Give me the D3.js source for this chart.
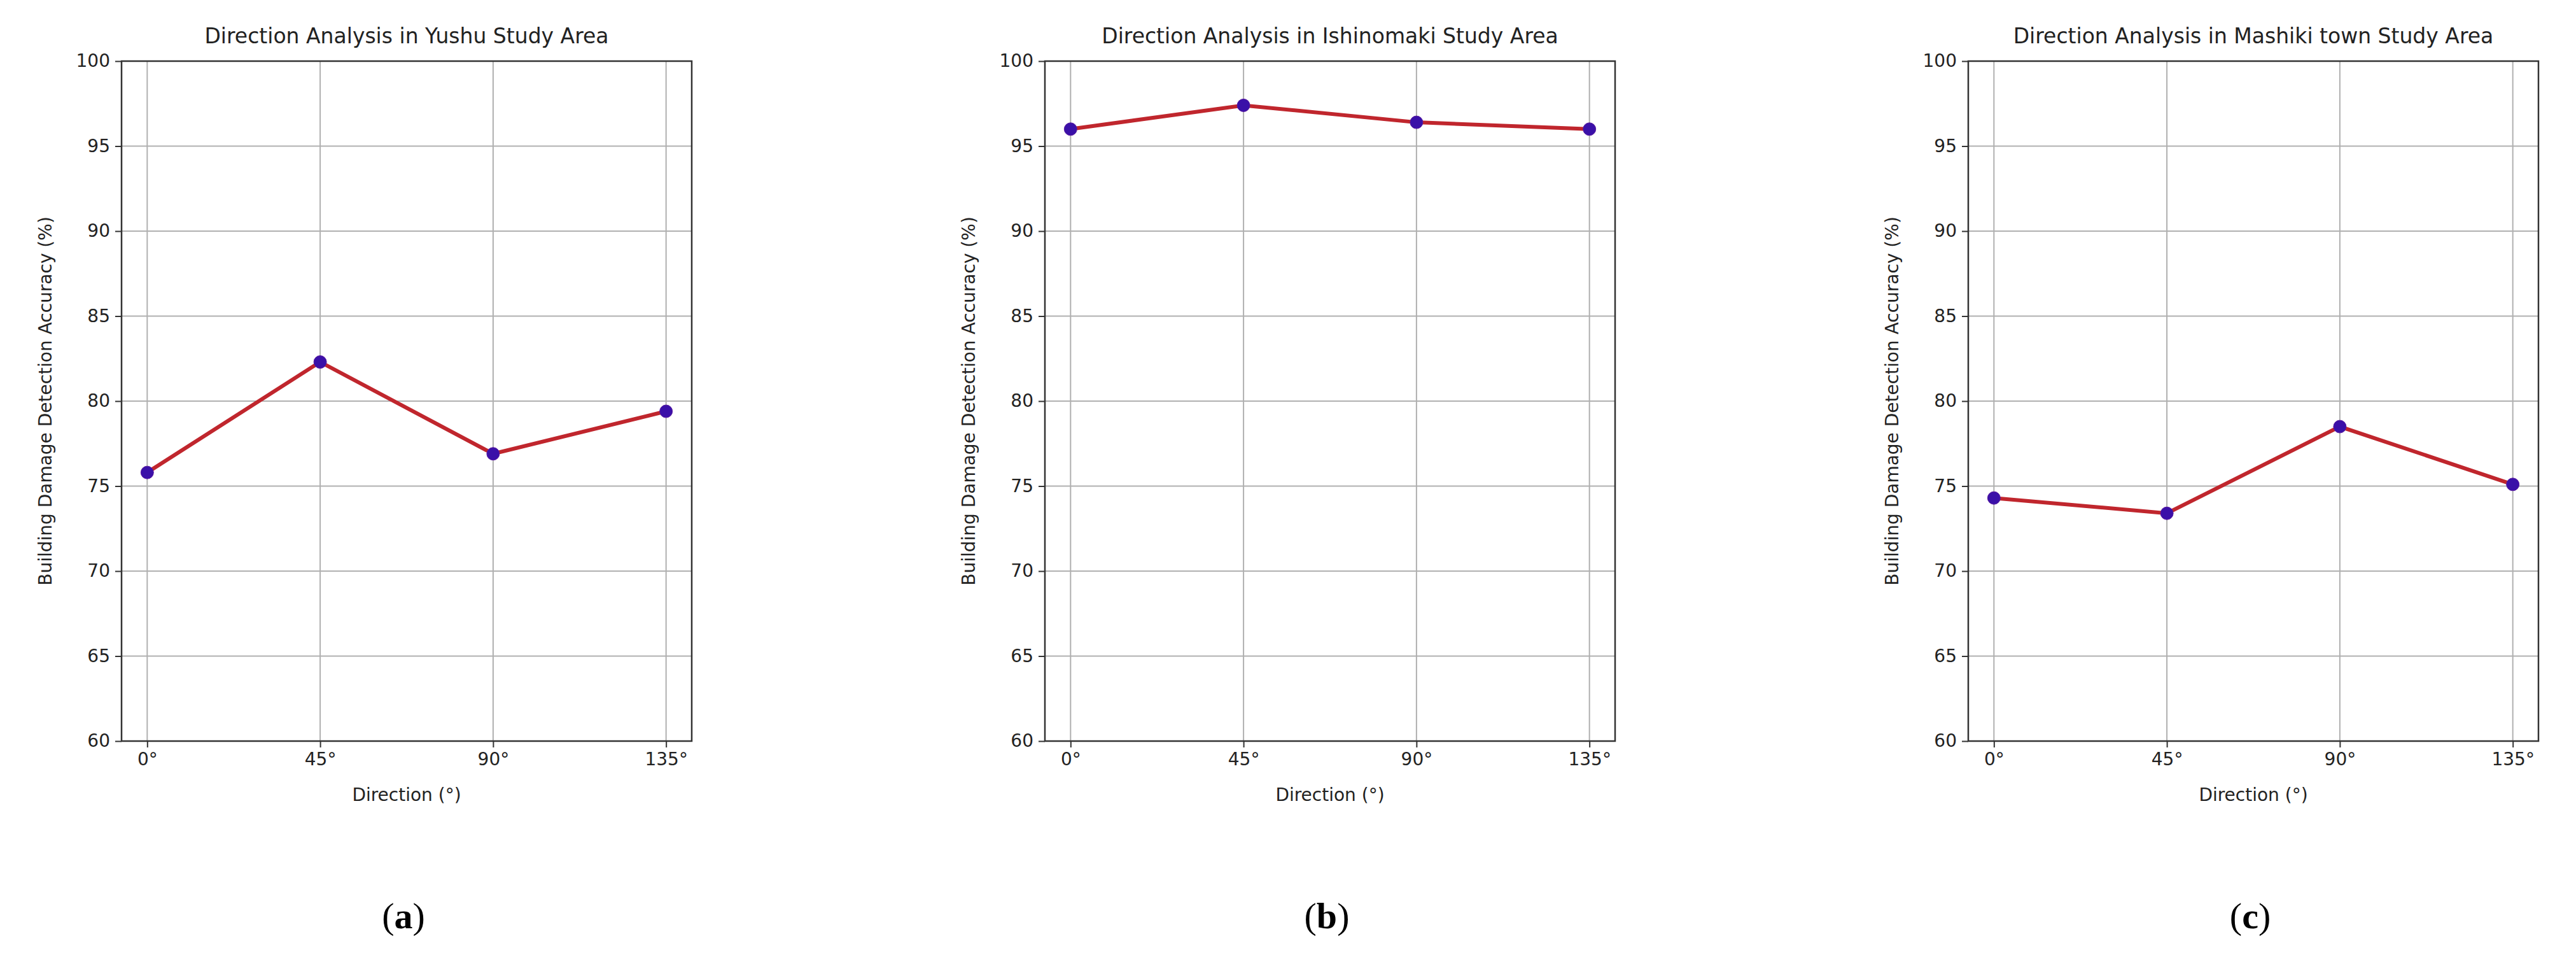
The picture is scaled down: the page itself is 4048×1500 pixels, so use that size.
<!DOCTYPE html>
<html><head><meta charset="utf-8">
<script src="https://cdn.jsdelivr.net/npm/d3@7"></script>
<style>body{margin:0;background:#fff}</style></head>
<body><svg id="c" width="4048" height="1500"></svg>
<script>
const directions = ["0°","45°","90°","135°"];
const yTicks = [60,65,70,75,80,85,90,95,100];
const titles = ["Direction Analysis in Yushu Study Area","Direction Analysis in Ishinomaki Study Area","Direction Analysis in Mashiki town Study Area"];
const panelLabels = ["a","b","c"];
const yushu = [75.8, 82.3, 76.9, 79.4];
const ishinomaki = [96.0, 97.4, 96.4, 96.0];
const mashiki = [74.3, 73.4, 78.5, 75.1];
const series = [yushu, ishinomaki, mashiki];

(function(){
const svg = d3.select("#c");
const lefts = [191, 1642, 3093], W = 896, plotTop = 96, plotBottom = 1164;
const font = "DejaVu Sans, sans-serif";
series.forEach((vals, i) => {
  const L = lefts[i], R = L + W;
  const pad = W * 0.045;
  const x = d3.scalePoint().domain(directions).range([L + pad, R - pad]);
  const y = d3.scaleLinear().domain([60,100]).range([plotBottom, plotTop]);
  const g = svg.append("g");
  g.selectAll(".gx").data(directions).join("line").attr("x1",d=>x(d)).attr("x2",d=>x(d)).attr("y1",plotTop).attr("y2",plotBottom).attr("stroke","#b0b0b0").attr("stroke-width",2);
  g.selectAll(".gy").data(yTicks).join("line").attr("y1",d=>y(d)).attr("y2",d=>y(d)).attr("x1",L).attr("x2",R).attr("stroke","#b0b0b0").attr("stroke-width",2);
  const ax = g.append("g").attr("transform",`translate(0,${plotBottom})`).call(d3.axisBottom(x).tickSize(10).tickPadding(8));
  const ay = g.append("g").attr("transform",`translate(${L},0)`).call(d3.axisLeft(y).tickValues(yTicks).tickSize(10).tickPadding(8));
  [ax,ay].forEach(a=>{a.selectAll("text").attr("font-size",28).attr("font-family",font).attr("fill","#222");a.selectAll("line").attr("stroke","#333").attr("stroke-width",2);a.select(".domain").remove();});
  g.append("rect").attr("x",L).attr("y",plotTop).attr("width",W).attr("height",plotBottom-plotTop).attr("fill","none").attr("stroke","#333").attr("stroke-width",2.5);
  g.append("path").datum(vals).attr("fill","none").attr("stroke","#c0262d").attr("stroke-width",6)
    .attr("d", d3.line().x((d,j)=>x(directions[j])).y(d=>y(d)));
  g.selectAll(".pt").data(vals).join("circle").attr("cx",(d,j)=>x(directions[j])).attr("cy",d=>y(d)).attr("r",10).attr("fill","#3a10a8").attr("stroke","#5a1aa0").attr("stroke-width",1);
  g.append("text").attr("x",(L+R)/2).attr("y",68).attr("text-anchor","middle").attr("font-size",33).attr("font-family",font).attr("fill","#222").text(titles[i]);
  g.append("text").attr("x",(L+R)/2).attr("y",1258).attr("text-anchor","middle").attr("font-size",28).attr("font-family",font).attr("fill","#222").text("Direction (°)");
  g.append("text").attr("transform",`translate(${L-110},${(plotTop+plotBottom)/2}) rotate(-90)`).attr("text-anchor","middle").attr("font-size",28).attr("font-family",font).attr("fill","#222").text("Building Damage Detection Accuracy (%)");
  const t = g.append("text").attr("x",(L+R)/2-5).attr("y",1458).attr("text-anchor","middle").attr("font-size",58).attr("font-family","Liberation Serif, serif").attr("fill","#000");
  t.append("tspan").text("(");
  t.append("tspan").attr("font-weight","bold").text(panelLabels[i]);
  t.append("tspan").text(")");
});
})();
</script></body></html>
